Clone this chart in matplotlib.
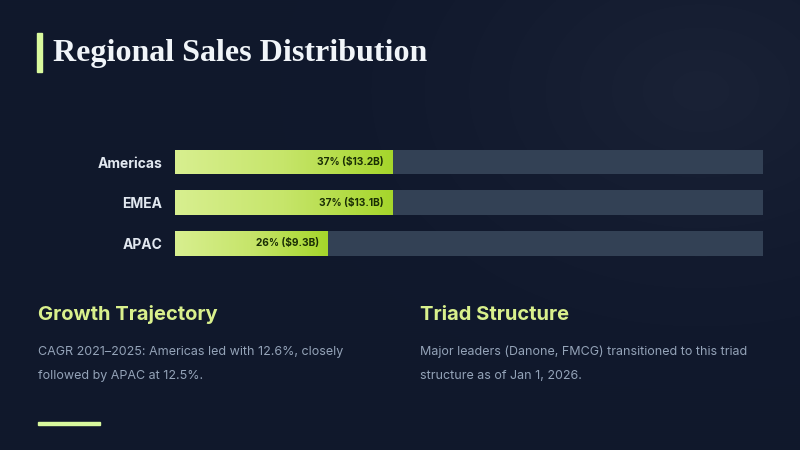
import numpy as np
import matplotlib
matplotlib.use("Agg")
import matplotlib.pyplot as plt
from matplotlib.colors import LinearSegmentedColormap

# ---- data ----
regions = ["Americas", "EMEA", "APAC"]
shares = [37, 37, 26]          # percent of total
sales_b = [13.2, 13.1, 9.3]    # $ billions
title = "Regional Sales Distribution"
card_titles = ["Growth Trajectory", "Triad Structure"]
card_lines = [
    ["CAGR 2021\u20132025: Americas led with 12.6%, closely", "followed by APAC at 12.5%."],
    ["Major leaders (Danone, FMCG) transitioned to this triad", "structure as of Jan 1, 2026."],
]

BG = "#111a2e"
TRACK = "#334155"
LIME = "#d9f99d"
W, H = 800, 450

fig = plt.figure(figsize=(8, 4.5), dpi=100, facecolor=BG)

# background with subtle glow at top right
bg_ax = fig.add_axes([0, 0, 1, 1])
bg_ax.set_xlim(0, W); bg_ax.set_ylim(H, 0); bg_ax.axis("off")
yy, xx = np.mgrid[0:H:2, 0:W:2]
d = np.sqrt(((xx - 700) / 420.0) ** 2 + ((yy - 90) / 300.0) ** 2)
glow = np.clip(1 - d, 0, 1) ** 1.5
base = np.array([0x10, 0x18, 0x2c]) / 255.0
hi = np.array([0x1a, 0x22, 0x36]) / 255.0
img = base[None, None, :] + glow[..., None] * (hi - base)[None, None, :]
bg_ax.imshow(img, extent=(0, W, H, 0), aspect="auto", zorder=0, interpolation="bilinear")

# title accent + title
bg_ax.add_patch(plt.Rectangle((37, 33), 5, 39, color=LIME, zorder=2))
bg_ax.text(53, 61, title, fontsize=23, fontweight="bold", family="Liberation Serif",
           color="#f1f5f9", va="baseline", ha="left", zorder=3)

# bottom accent
bg_ax.add_patch(plt.Rectangle((38, 421.5), 62, 3, color=LIME, zorder=2))

# cards
for i, (ct, lines) in enumerate(zip(card_titles, card_lines)):
    x0 = 38 if i == 0 else 420
    bg_ax.text(x0, 320.5, ct, fontsize=14.5, fontweight="bold", family="Inter",
               color="#d9f08c", va="baseline", ha="left", zorder=3)
    for j, ln in enumerate(lines):
        bg_ax.text(x0, 352 + 24 * j, ln, fontsize=9.0, family="Inter", color="#94a3b8",
                   va="center", ha="left", zorder=3)

# ---- bar chart ----
left, right = 175, 762.5
row_gap = 40.7
top_center = 162
ax_top = top_center - row_gap / 2
ax_h = row_gap * len(regions)
ax = fig.add_axes([left / W, 1 - (ax_top + ax_h) / H, (right - left) / W, ax_h / H])
ax.set_facecolor("none")
for s in ax.spines.values():
    s.set_visible(False)
ax.set_xticks([])
ypos = np.arange(len(regions))
ax.set_yticks(ypos)
ax.set_yticklabels(regions, fontsize=10, fontweight="bold", family="Inter", color="#e2e8f0")
ax.tick_params(axis="y", length=0, pad=9)

bh = 0.61
ax.barh(ypos, [100] * len(regions), height=bh, color=TRACK, zorder=1)
bars = ax.barh(ypos, shares, height=bh, color="none", zorder=2)

cmap = LinearSegmentedColormap.from_list("lime", ["#d8ef90", "#c6e56a", "#a5d62b"])
grad = np.linspace(0, 1, 256)[None, :]
for b, pct, val in zip(bars, shares, sales_b):
    x0, y0 = b.get_x(), b.get_y()
    w, h = b.get_width(), b.get_height()
    im = ax.imshow(grad, cmap=cmap, extent=(x0, x0 + w, y0 + h, y0), aspect="auto",
                   zorder=2, interpolation="bilinear")
    im.set_clip_path(b)
    ax.text(x0 + w - 1.5, y0 + h / 2, f"{pct}% (${val}B)", fontsize=7.3, fontweight="bold",
            family="Inter", color="#1a2e05", ha="right", va="center", zorder=3)
ax.set_xlim(0, 100)
ax.set_ylim(len(regions) - 0.5, -0.5)

fig.savefig("out.png", dpi=100, facecolor=BG)
